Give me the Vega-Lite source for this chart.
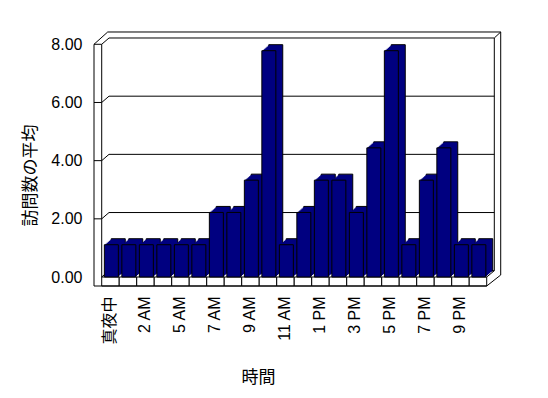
{
  "$schema": "https://vega.github.io/schema/vega-lite/v6.json",
  "width": 408,
  "height": 255,
  "autosize": {"type": "none"},
  "padding": {"left": 94, "top": 31, "right": 46, "bottom": 112},
  "background": "white",
  "config": {
    "view": {"stroke": null},
    "axis": {
      "labelFont": "Liberation Sans, Noto Sans CJK JP",
      "labelFontSize": 16,
      "labelColor": "black",
      "titleFont": "Noto Sans CJK JP",
      "titleFontSize": 17,
      "titleFontWeight": "normal",
      "titleColor": "black"
    }
  },
  "data": {
    "values": [
      {"hour": "真夜中", "visits": 1.11},
      {"hour": "1 AM", "visits": 1.11},
      {"hour": "2 AM", "visits": 1.11},
      {"hour": "3 AM", "visits": 1.11},
      {"hour": "5 AM", "visits": 1.11},
      {"hour": "6 AM", "visits": 1.11},
      {"hour": "7 AM", "visits": 2.22},
      {"hour": "8 AM", "visits": 2.22},
      {"hour": "9 AM", "visits": 3.33},
      {"hour": "10 AM", "visits": 7.78},
      {"hour": "11 AM", "visits": 1.11},
      {"hour": "12 PM", "visits": 2.22},
      {"hour": "1 PM", "visits": 3.33},
      {"hour": "2 PM", "visits": 3.33},
      {"hour": "3 PM", "visits": 2.22},
      {"hour": "4 PM", "visits": 4.44},
      {"hour": "5 PM", "visits": 7.78},
      {"hour": "6 PM", "visits": 1.11},
      {"hour": "7 PM", "visits": 3.33},
      {"hour": "8 PM", "visits": 4.44},
      {"hour": "9 PM", "visits": 1.11},
      {"hour": "10 PM", "visits": 1.11}
    ]
  },
  "layer": [
    {
      "mark": {"type": "bar", "fill": "white", "stroke": "black", "strokeWidth": 1},
      "encoding": {
        "x": {
          "field": "hour", "type": "nominal", "sort": null,
          "scale": {"paddingInner": 0, "paddingOuter": 0.657, "align": 0.335, "round": false},
          "axis": {
            "title": "時間",
            "labelAngle": -90,
            "ticks": false,
            "domain": false,
            "grid": false,
            "labelPadding": 10,
            "labelOverlap": false,
            "labelBound": false,
            "labelExpr": "indexof(['真夜中','2 AM','5 AM','7 AM','9 AM','11 AM','1 PM','3 PM','5 PM','7 PM','9 PM'], datum.value) >= 0 ? datum.label : ''",
            "titleX": 164,
            "titleY": 91,
            "titleAlign": "center",
            "titleBaseline": "middle"
          }
        },
        "y": {
          "datum": 0, "type": "quantitative",
          "scale": {"domain": [-0.309, 8.457], "zero": false, "nice": false},
          "axis": {
            "title": "訪問数の平均",
            "values": [0, 2, 4, 6, 8],
            "format": ".2f",
            "ticks": false,
            "domain": false,
            "grid": false,
            "labelPadding": 12,
            "titleX": -64,
            "titleY": 144,
            "titleAngle": -90,
            "titleAlign": "center",
            "titleBaseline": "middle"
          }
        },
        "y2": {"datum": -0.309}
      }
    },
    {
      "data": {"values": [{"v": 0}, {"v": 2}, {"v": 4}, {"v": 6}, {"v": 8}]},
      "layer": [
        {
          "mark": {"type": "rule", "color": "black", "strokeWidth": 1, "xOffset": 7.3, "x2Offset": 7.6, "yOffset": -6.3},
          "encoding": {
            "x": {"datum": "真夜中", "type": "nominal", "bandPosition": 0},
            "x2": {"datum": "10 PM", "bandPosition": 1},
            "y": {"field": "v", "type": "quantitative"}
          }
        },
        {
          "mark": {"type": "rule", "color": "black", "strokeWidth": 1, "x2Offset": 7.3, "y2Offset": -6.3},
          "encoding": {
            "x": {"datum": "真夜中", "type": "nominal", "bandPosition": 0},
            "x2": {"datum": "真夜中", "bandPosition": 0},
            "y": {"field": "v", "type": "quantitative"},
            "y2": {"field": "v"}
          }
        }
      ]
    },
    {
      "data": {"values": [{"v": 2}, {"v": 4}, {"v": 6}]},
      "mark": {"type": "rule", "color": "black", "strokeWidth": 1, "xOffset": -7.7},
      "encoding": {
        "x": {"datum": "真夜中", "type": "nominal", "bandPosition": 0},
        "x2": {"datum": "真夜中", "bandPosition": 0},
        "y": {"field": "v", "type": "quantitative"}
      }
    },
    {
      "data": {"values": [{"k": 1}]},
      "layer": [
        {
          "mark": {"type": "rule", "color": "black", "strokeWidth": 1, "xOffset": -7.7},
          "encoding": {
            "x": {"datum": "真夜中", "type": "nominal", "bandPosition": 0},
            "y": {"datum": 8, "type": "quantitative"},
            "y2": {"datum": -0.309}
          }
        },
        {
          "mark": {"type": "rule", "color": "black", "strokeWidth": 1},
          "encoding": {
            "x": {"datum": "真夜中", "type": "nominal", "bandPosition": 0},
            "y": {"datum": 8, "type": "quantitative"},
            "y2": {"datum": 0}
          }
        },
        {
          "mark": {"type": "rule", "color": "black", "strokeWidth": 1, "xOffset": -7.7},
          "encoding": {
            "x": {"datum": "真夜中", "type": "nominal", "bandPosition": 0},
            "x2": {"datum": "真夜中", "bandPosition": 0},
            "y": {"datum": 8, "type": "quantitative"}
          }
        },
        {
          "mark": {"type": "rule", "color": "black", "strokeWidth": 1, "xOffset": -7.7},
          "encoding": {
            "x": {"datum": "真夜中", "type": "nominal", "bandPosition": 0},
            "x2": {"datum": "10 PM", "bandPosition": 1},
            "y": {"datum": -0.309, "type": "quantitative"}
          }
        },
        {
          "mark": {"type": "rule", "color": "black", "strokeWidth": 1, "xOffset": -7.7, "x2Offset": 6, "y2Offset": -12.3},
          "encoding": {
            "x": {"datum": "真夜中", "type": "nominal", "bandPosition": 0},
            "x2": {"datum": "真夜中", "bandPosition": 0},
            "y": {"datum": 8, "type": "quantitative"},
            "y2": {"datum": 8}
          }
        },
        {
          "mark": {"type": "rule", "color": "black", "strokeWidth": 1, "xOffset": 6, "x2Offset": 14, "yOffset": -12.3},
          "encoding": {
            "x": {"datum": "真夜中", "type": "nominal", "bandPosition": 0},
            "x2": {"datum": "10 PM", "bandPosition": 1},
            "y": {"datum": 8, "type": "quantitative"}
          }
        },
        {
          "mark": {"type": "rule", "color": "black", "strokeWidth": 1, "xOffset": 14, "yOffset": -12.3, "y2Offset": -2},
          "encoding": {
            "x": {"datum": "10 PM", "type": "nominal", "bandPosition": 1},
            "y": {"datum": 8, "type": "quantitative"},
            "y2": {"datum": 0}
          }
        },
        {
          "mark": {"type": "rule", "color": "black", "strokeWidth": 1, "xOffset": 7.6, "yOffset": -6.3, "y2Offset": -6.3},
          "encoding": {
            "x": {"datum": "10 PM", "type": "nominal", "bandPosition": 1},
            "y": {"datum": 8, "type": "quantitative"},
            "y2": {"datum": 0}
          }
        },
        {
          "mark": {"type": "rule", "color": "black", "strokeWidth": 1, "xOffset": 7.6, "x2Offset": 14, "yOffset": -6.3, "y2Offset": -12.3},
          "encoding": {
            "x": {"datum": "10 PM", "type": "nominal", "bandPosition": 1},
            "x2": {"datum": "10 PM", "bandPosition": 1},
            "y": {"datum": 8, "type": "quantitative"},
            "y2": {"datum": 8}
          }
        },
        {
          "mark": {"type": "rule", "color": "black", "strokeWidth": 1, "x2Offset": 7.6, "y2Offset": -6.3},
          "encoding": {
            "x": {"datum": "10 PM", "type": "nominal", "bandPosition": 1},
            "x2": {"datum": "10 PM", "bandPosition": 1},
            "y": {"datum": 0, "type": "quantitative"},
            "y2": {"datum": 0}
          }
        },
        {
          "mark": {"type": "rule", "color": "black", "strokeWidth": 1, "x2Offset": 14, "y2Offset": -2},
          "encoding": {
            "x": {"datum": "10 PM", "type": "nominal", "bandPosition": 1},
            "x2": {"datum": "10 PM", "bandPosition": 1},
            "y": {"datum": -0.309, "type": "quantitative"},
            "y2": {"datum": 0}
          }
        }
      ]
    },
    {
      "mark": {"type": "bar", "fill": "#000080", "stroke": "black", "strokeWidth": 1, "width": {"band": 0.8}, "xOffset": 7.8, "yOffset": -6, "y2Offset": -6},
      "encoding": {
        "x": {"field": "hour", "type": "nominal", "sort": null},
        "y": {"field": "visits", "type": "quantitative"},
        "y2": {"datum": 0}
      }
    },
    {
      "mark": {"type": "bar", "fill": "#000080", "width": {"band": 0.8}, "xOffset": 6.7, "yOffset": -5, "y2Offset": -5},
      "encoding": {
        "x": {"field": "hour", "type": "nominal", "sort": null},
        "y": {"field": "visits", "type": "quantitative"},
        "y2": {"datum": 0}
      }
    },
    {
      "mark": {"type": "bar", "fill": "#000080", "width": {"band": 0.8}, "xOffset": 5.5, "yOffset": -4, "y2Offset": -4},
      "encoding": {
        "x": {"field": "hour", "type": "nominal", "sort": null},
        "y": {"field": "visits", "type": "quantitative"},
        "y2": {"datum": 0}
      }
    },
    {
      "mark": {"type": "bar", "fill": "#000080", "width": {"band": 0.8}, "xOffset": 4.4, "yOffset": -3, "y2Offset": -3},
      "encoding": {
        "x": {"field": "hour", "type": "nominal", "sort": null},
        "y": {"field": "visits", "type": "quantitative"},
        "y2": {"datum": 0}
      }
    },
    {
      "mark": {"type": "bar", "fill": "#000080", "width": {"band": 0.8}, "xOffset": 3.2, "yOffset": -2, "y2Offset": -2},
      "encoding": {
        "x": {"field": "hour", "type": "nominal", "sort": null},
        "y": {"field": "visits", "type": "quantitative"},
        "y2": {"datum": 0}
      }
    },
    {
      "mark": {"type": "bar", "fill": "#000080", "width": {"band": 0.8}, "xOffset": 2.1, "yOffset": -1, "y2Offset": -1},
      "encoding": {
        "x": {"field": "hour", "type": "nominal", "sort": null},
        "y": {"field": "visits", "type": "quantitative"},
        "y2": {"datum": 0}
      }
    },
    {
      "mark": {"type": "bar", "fill": "#000080", "stroke": "black", "strokeWidth": 1, "width": {"band": 0.8}, "xOffset": 0.9},
      "encoding": {
        "x": {"field": "hour", "type": "nominal", "sort": null},
        "y": {"field": "visits", "type": "quantitative"},
        "y2": {"datum": 0}
      }
    }
  ]
}
